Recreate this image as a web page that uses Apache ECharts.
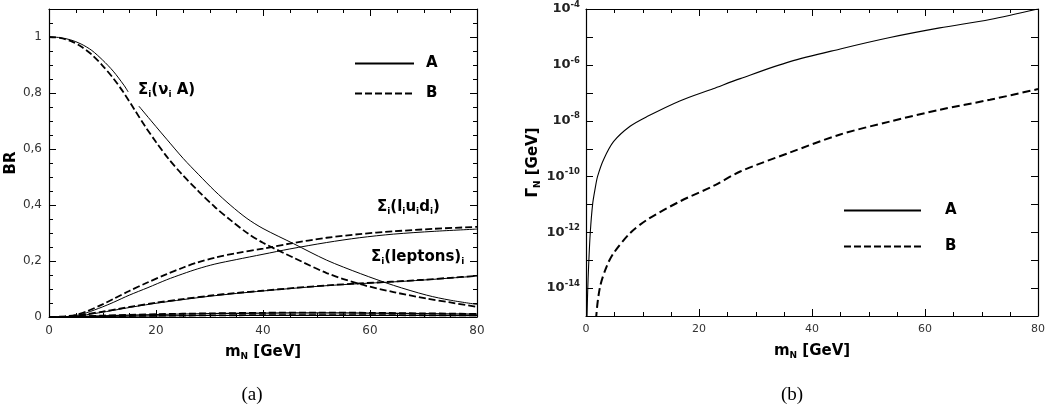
<!DOCTYPE html>
<html>
<head>
<meta charset="utf-8">
<script src="https://cdn.jsdelivr.net/npm/echarts@6/dist/echarts.min.js"></script>
<style>
  html, body { margin: 0; padding: 0; background: #fff; }
  #chart { width: 1051px; height: 411px; }
</style>
</head>
<body>
<div id="chart"></div>
<script>
// ---- (a) branching ratios vs heavy-neutrino mass, [m_N (GeV), BR] ----
const nuA_A = [[0,1.0],[2,0.998],[4,0.99],[6,0.975],[8,0.952],[10,0.918],[12,0.878],[14,0.828],[14.8,0.804],[15.8,null],[16.8,0.753],[20,0.68],[22,0.635],[25.1,0.566],[28,0.508],[31,0.45],[34,0.398],[37,0.352],[40,0.316],[45.7,0.262],[51.9,0.203],[58.2,0.155],[64.4,0.113],[70.6,0.078],[75,0.06],[80,0.045]];
const nuA_B = [[0,1.0],[2,0.997],[4,0.986],[6,0.966],[8,0.937],[10,0.898],[12,0.853],[14,0.8],[16,0.74],[18,0.68],[20,0.625],[22.3,0.566],[24.7,0.513],[28,0.448],[31,0.393],[34,0.345],[37.2,0.298],[40,0.265],[45.7,0.212],[51.9,0.157],[58.2,0.117],[64.4,0.089],[70.6,0.066],[75,0.052],[80,0.036]];
const lud_A = [[0,0],[3,0.001],[5,0.005],[7,0.015],[10,0.036],[12,0.052],[15,0.078],[18.5,0.105],[22,0.133],[25,0.154],[27.8,0.172],[31,0.189],[35,0.205],[40,0.224],[45,0.243],[51.9,0.266],[58,0.283],[64.4,0.296],[72,0.306],[80,0.314]];
const lud_B = [[0,0],[3,0.002],[5,0.008],[7,0.02],[10,0.045],[12,0.064],[15,0.093],[18.5,0.124],[22,0.153],[25,0.176],[27.8,0.195],[31,0.212],[35,0.228],[40,0.244],[45,0.262],[51.9,0.283],[58,0.296],[64.4,0.306],[72,0.315],[80,0.322]];
const lep_A = [[0,0],[3,0.0005],[5,0.003],[7,0.008],[10,0.017],[13,0.027],[16,0.037],[20,0.049],[25,0.062],[30,0.074],[35,0.084],[40,0.093],[46,0.103],[52,0.112],[58,0.119],[64,0.125],[70,0.132],[75,0.139],[80,0.146]];
const lep_B = [[0,0],[3,0.001],[5,0.004],[7,0.01],[10,0.019],[13,0.029],[16,0.039],[20,0.051],[25,0.064],[30,0.076],[35,0.086],[40,0.094],[46,0.104],[52,0.113],[58,0.12],[64,0.126],[70,0.133],[75,0.14],[80,0.147]];
const hadA = [[0,0],[5,0.001],[10,0.004],[20,0.009],[30,0.012],[40,0.014],[50,0.0145],[60,0.014],[70,0.012],[80,0.01]];
const hadB = [[0,0],[5,0.0015],[10,0.005],[20,0.01],[30,0.013],[40,0.015],[50,0.0155],[60,0.015],[70,0.013],[80,0.011]];
const lowA = [[0,0],[10,0.002],[20,0.004],[40,0.006],[60,0.006],[80,0.005]];
const lowB = [[0,0],[10,0.0025],[20,0.0045],[40,0.0065],[60,0.0065],[80,0.0055]];

// ---- (b) total width vs mass, [m_N (GeV), Gamma_N (GeV)] ----
const widthA = [[0.1,1e-16],[0.18,1e-15],[0.3,8e-15],[0.46,6e-14],[0.76,1e-12],[1.17,1e-11],[1.6,3.5e-11],[2.05,1e-10],[3.1,4e-10],[4.9,1.8e-9],[7.8,6.3e-9],[10.8,1.4e-8],[16.7,5.2e-8],[22.5,1.4e-7],[27.3,3.2e-7],[36.1,1.3e-6],[45,3.7e-6],[53.8,9.5e-6],[62.6,2.1e-5],[71.5,4.2e-5],[80,1e-4]];
const widthB = [[1.7,1e-16],[1.82,1e-15],[2.5,1.15e-14],[3.7,6.3e-14],[4.9,1.8e-13],[7.8,9.3e-13],[10.8,2.8e-12],[16.7,1.3e-11],[22.5,4.5e-11],[27.3,1.5e-10],[36.1,7.2e-10],[45,3.2e-9],[53.8,9.3e-9],[62.6,2.45e-8],[71.5,5.6e-8],[80,1.35e-7]];

// axis ranges and tick spacing
const massTicks = { min: 0, max: 80, interval: 20, minor: 5 };
const brTicks = { min: 0, max: 1.1, interval: 0.2, minor: 0.05 };
const widthRange = { minExp: -15, maxExp: -4 };
const legendNames = ['A', 'B'];

// plot frames
const frameA = { left: 49, top: 9, width: 428, height: 308 };
const frameB = { left: 586, top: 9, width: 452, height: 307 };

const FONT = 'DejaVu Sans';
const richName = {
  b: { fontFamily: FONT, fontWeight: 'bold', fontSize: 15, color: '#000', lineHeight: 18 },
  s: { fontFamily: FONT, fontWeight: 'bold', fontSize: 9, color: '#000', lineHeight: 10, verticalAlign: 'bottom' }
};

const frameLine = () => ({ show: true, onZero: false, lineStyle: { color: '#000', width: 1.2 } });

function massAxis(grid, pos, withLabels, fontSize) {
  return {
    gridIndex: grid, type: 'value', position: pos,
    min: massTicks.min, max: massTicks.max, interval: massTicks.interval,
    axisLine: frameLine(), axisTick: { show: false }, minorTick: { show: false },
    splitLine: { show: false },
    axisLabel: withLabels ? { show: true, margin: 8, fontFamily: FONT, fontSize: fontSize, color: '#333' } : { show: false },
    name: withLabels ? '{b|m}{s|N}{b| [GeV]}' : '',
    nameLocation: 'middle', nameGap: 26,
    nameTextStyle: { rich: richName }
  };
}

function brAxis(pos, withLabels) {
  return {
    gridIndex: 0, type: 'value', position: pos,
    min: brTicks.min, max: brTicks.max, interval: brTicks.interval,
    axisLine: frameLine(), axisTick: { show: false }, splitLine: { show: false },
    axisLabel: withLabels ? {
      show: true, margin: 7, fontFamily: FONT, fontSize: 12, color: '#333',
      formatter: v => v > 1.05 ? '' : String(Number(v.toFixed(2))).replace('.', ',')
    } : { show: false },
    name: withLabels ? 'BR' : '',
    nameLocation: 'middle', nameGap: 30,
    nameTextStyle: { fontFamily: FONT, fontWeight: 'bold', fontSize: 15, color: '#000' }
  };
}

function widthAxis(pos, withLabels) {
  return {
    gridIndex: 1, type: 'log', logBase: 10, position: pos,
    min: Math.pow(10, widthRange.minExp), max: Math.pow(10, widthRange.maxExp), interval: 1,
    axisLine: frameLine(), axisTick: { show: false }, minorTick: { show: false },
    splitLine: { show: false },
    axisLabel: withLabels ? {
      show: true, margin: 6,
      formatter: v => {
        const e = Math.round(Math.log10(v));
        return (e % 2 === 0) ? '{b|10}{p|' + e + '}' : '';
      },
      rich: {
        b: { fontFamily: FONT, fontWeight: 'bold', fontSize: 13, color: '#222', lineHeight: 18 },
        p: { fontFamily: FONT, fontWeight: 'bold', fontSize: 8.5, color: '#222', lineHeight: 10, verticalAlign: 'top' }
      }
    } : { show: false },
    name: withLabels ? '{b|Γ}{s|N}{b| [GeV]}' : '',
    nameLocation: 'middle', nameGap: 44,
    nameTextStyle: { rich: richName }
  };
}

const solid = w => ({ color: '#000', width: w, type: 'solid' });
const dashed = (w, d) => ({ color: '#000', width: w, type: d });

function line(name, data, xi, yi, style) {
  return {
    type: 'line', name: name, data: data, xAxisIndex: xi, yAxisIndex: yi,
    showSymbol: false, symbol: 'none', smooth: 0.3,
    connectNulls: false, lineStyle: style, itemStyle: { color: '#000' },
    emphasis: { disabled: true }, silent: true
  };
}

const dashA = [7, 3];
const dashB = [8, 4];

const legendBase = () => ({
  data: legendNames, orient: 'vertical', padding: 5, itemHeight: 14, selectedMode: false,
  itemStyle: { opacity: 0, borderWidth: 0 }
});

// inward tick marks on all four sides of a frame
function steps(a, b, d) {
  const out = [];
  for (let k = 0; a + k * d <= b + 1e-9; k++) out.push(Number((a + k * d).toFixed(6)));
  return out;
}
const isMultiple = (v, d) => Math.abs(v / d - Math.round(v / d)) < 1e-6;

function tickLine(x1, y1, x2, y2) {
  return { type: 'line', silent: true, z: 10,
    shape: { x1: x1, y1: y1, x2: x2, y2: y2 },
    style: { stroke: '#000', lineWidth: 1 } };
}

// xFrac / yFrac map an axis value to its fraction along the frame (0 = left/bottom)
function frameTicks(f, xTicks, xFrac, yTicks, yFrac) {
  const out = [];
  const xl = f.left, xr = f.left + f.width, yt = f.top, yb = f.top + f.height;
  xTicks.forEach(t => {
    const x = Math.round(xl + xFrac(t.v) * f.width) + 0.5;
    out.push(tickLine(x, yb, x, yb - t.len));
    out.push(tickLine(x, yt, x, yt + t.len));
  });
  yTicks.forEach(t => {
    const y = Math.round(yb - yFrac(t.v) * f.height) + 0.5;
    out.push(tickLine(xl, y, xl + t.len, y));
    out.push(tickLine(xr, y, xr - t.len, y));
  });
  return out;
}

const massTickList = steps(massTicks.min, massTicks.max, massTicks.minor)
  .map(v => ({ v: v, len: isMultiple(v, massTicks.interval) ? 7 : 4 }));
const brTickList = steps(brTicks.min, brTicks.max, brTicks.minor)
  .map(v => ({ v: v, len: isMultiple(v, brTicks.interval) ? 7 : 4 }));
const widthTickList = steps(widthRange.minExp, widthRange.maxExp, 1)
  .map(e => ({ v: e, len: 7 }));

const massFrac = v => (v - massTicks.min) / (massTicks.max - massTicks.min);
const brFrac = v => (v - brTicks.min) / (brTicks.max - brTicks.min);
const expFrac = e => (e - widthRange.minExp) / (widthRange.maxExp - widthRange.minExp);

const tickMarks = frameTicks(frameA, massTickList, massFrac, brTickList, brFrac)
  .concat(frameTicks(frameB, massTickList, massFrac, widthTickList, expFrac));

const labels = [
  { type: 'text', left: 138, top: 83, silent: true,
    style: { text: '{b|Σ}{s|i}{b|(ν}{s|i}{b| A)}', rich: richName } },
  { type: 'text', left: 377, top: 200, silent: true,
    style: { text: '{b|Σ}{s|i}{b|(l}{s|i}{b|u}{s|i}{b|d}{s|i}{b|)}', rich: richName } },
  { type: 'text', left: 371, top: 250, silent: true,
    style: { text: '{b|Σ}{s|i}{b|(leptons)}{s|i}', rich: richName } },
  { type: 'text', x: 252, y: 395, silent: true,
    style: { text: '(a)', fontFamily: 'Liberation Serif', fontSize: 19, fill: '#000', align: 'center', verticalAlign: 'middle' } },
  { type: 'text', x: 792, y: 395, silent: true,
    style: { text: '(b)', fontFamily: 'Liberation Serif', fontSize: 19, fill: '#000', align: 'center', verticalAlign: 'middle' } }
];

const option = {
  animation: false,
  backgroundColor: '#fff',
  grid: [Object.assign({}, frameA), Object.assign({}, frameB)],
  xAxis: [
    massAxis(0, 'bottom', true, 12),
    massAxis(0, 'top', false),
    massAxis(1, 'bottom', true, 11),
    massAxis(1, 'top', false)
  ],
  yAxis: [
    brAxis('left', true),
    brAxis('right', false),
    widthAxis('left', true),
    widthAxis('right', false)
  ],
  legend: [
    Object.assign(legendBase(), {
      left: 349, top: 51, itemWidth: 59, itemGap: 15,
      textStyle: { fontFamily: FONT, fontWeight: 'bold', fontSize: 15, color: '#000', padding: [0, 0, 0, 7] }
    }),
    Object.assign(legendBase(), {
      left: 838, top: 198, itemWidth: 77, itemGap: 21,
      textStyle: { fontFamily: FONT, fontWeight: 'bold', fontSize: 15, color: '#000', padding: [0, 0, 0, 19] }
    })
  ],
  series: [
    line('A', nuA_A, 0, 0, solid(1)),
    line('B', nuA_B, 0, 0, dashed(1.8, dashA)),
    line('A', lud_A, 0, 0, solid(1)),
    line('B', lud_B, 0, 0, dashed(1.8, dashA)),
    line('A', lep_A, 0, 0, solid(1)),
    line('B', lep_B, 0, 0, dashed(1.8, dashA)),
    line('A', hadA, 0, 0, solid(1.2)),
    line('B', hadB, 0, 0, dashed(1.8, dashA)),
    line('A', lowA, 0, 0, solid(1.2)),
    line('B', lowB, 0, 0, dashed(1.8, dashA)),
    line('A', widthA, 2, 2, solid(1.1)),
    line('B', widthB, 2, 2, dashed(2, dashB))
  ],
  graphic: labels.concat(tickMarks)
};

const chart = echarts.init(document.getElementById('chart'), null, { renderer: 'canvas' });
chart.setOption(option);
</script>
</body>
</html>
